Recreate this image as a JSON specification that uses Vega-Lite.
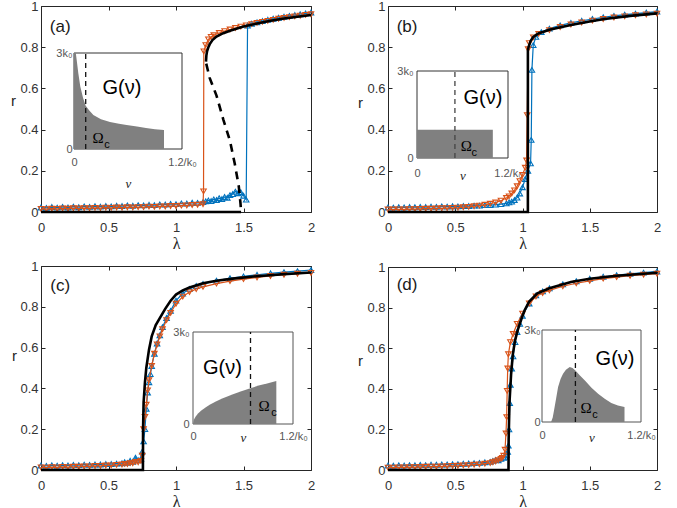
{
"$schema":"https://vega.github.io/schema/vega-lite/v6.json",
"width":677,"height":508,"autosize":"none","padding":0,
"config":{"view":{"stroke":null},"font":"Liberation Sans",
 "axis":{"grid":false,"domainColor":"#262626","domainWidth":1,"tickColor":"#262626","tickWidth":1,"labelFont":"Liberation Sans","labelFontSize":13,"labelColor":"#333333","labelFlush":false,"labelOverlap":false,"labelBound":false,"titleColor":"#262626","titleFontWeight":"normal","titleFont":"Liberation Sans"}},
"datasets":{
"main":[
{"p":"a","s":"f","x":0,"r":0.022},{"p":"a","s":"f","x":0.04,"r":0.02},{"p":"a","s":"f","x":0.08,"r":0.024},{"p":"a","s":"f","x":0.12,"r":0.021},{"p":"a","s":"f","x":0.16,"r":0.025},{"p":"a","s":"f","x":0.2,"r":0.022},{"p":"a","s":"f","x":0.24,"r":0.026},{"p":"a","s":"f","x":0.28,"r":0.023},{"p":"a","s":"f","x":0.32,"r":0.027},{"p":"a","s":"f","x":0.36,"r":0.025},{"p":"a","s":"f","x":0.4,"r":0.028},{"p":"a","s":"f","x":0.44,"r":0.026},{"p":"a","s":"f","x":0.48,"r":0.029},{"p":"a","s":"f","x":0.52,"r":0.027},{"p":"a","s":"f","x":0.56,"r":0.03},{"p":"a","s":"f","x":0.6,"r":0.029},{"p":"a","s":"f","x":0.64,"r":0.032},{"p":"a","s":"f","x":0.68,"r":0.03},{"p":"a","s":"f","x":0.72,"r":0.033},{"p":"a","s":"f","x":0.76,"r":0.032},{"p":"a","s":"f","x":0.8,"r":0.035},{"p":"a","s":"f","x":0.84,"r":0.033},{"p":"a","s":"f","x":0.88,"r":0.037},{"p":"a","s":"f","x":0.92,"r":0.036},{"p":"a","s":"f","x":0.96,"r":0.039},{"p":"a","s":"f","x":1.0,"r":0.038},{"p":"a","s":"f","x":1.04,"r":0.042},{"p":"a","s":"f","x":1.08,"r":0.041},{"p":"a","s":"f","x":1.12,"r":0.045},{"p":"a","s":"f","x":1.16,"r":0.044},{"p":"a","s":"f","x":1.2,"r":0.048},{"p":"a","s":"f","x":1.22,"r":0.052},{"p":"a","s":"f","x":1.24,"r":0.056},{"p":"a","s":"f","x":1.26,"r":0.053},{"p":"a","s":"f","x":1.28,"r":0.061},{"p":"a","s":"f","x":1.3,"r":0.058},{"p":"a","s":"f","x":1.32,"r":0.067},{"p":"a","s":"f","x":1.34,"r":0.063},{"p":"a","s":"f","x":1.36,"r":0.073},{"p":"a","s":"f","x":1.38,"r":0.069},{"p":"a","s":"f","x":1.4,"r":0.082},{"p":"a","s":"f","x":1.42,"r":0.087},{"p":"a","s":"f","x":1.44,"r":0.099},{"p":"a","s":"f","x":1.46,"r":0.091},{"p":"a","s":"f","x":1.48,"r":0.096},{"p":"a","s":"f","x":1.5,"r":0.079},{"p":"a","s":"f","x":1.52,"r":0.06},{"p":"a","s":"f","x":1.53,"r":0.905},{"p":"a","s":"f","x":1.56,"r":0.914},{"p":"a","s":"f","x":1.6,"r":0.921},{"p":"a","s":"f","x":1.64,"r":0.927},{"p":"a","s":"f","x":1.68,"r":0.933},{"p":"a","s":"f","x":1.72,"r":0.938},{"p":"a","s":"f","x":1.76,"r":0.943},{"p":"a","s":"f","x":1.8,"r":0.948},{"p":"a","s":"f","x":1.84,"r":0.952},{"p":"a","s":"f","x":1.88,"r":0.956},{"p":"a","s":"f","x":1.92,"r":0.96},{"p":"a","s":"f","x":1.96,"r":0.964},{"p":"a","s":"f","x":2,"r":0.968},
{"p":"a","s":"b","x":0,"r":0.015},{"p":"a","s":"b","x":0.04,"r":0.014},{"p":"a","s":"b","x":0.08,"r":0.016},{"p":"a","s":"b","x":0.12,"r":0.015},{"p":"a","s":"b","x":0.16,"r":0.017},{"p":"a","s":"b","x":0.2,"r":0.016},{"p":"a","s":"b","x":0.24,"r":0.018},{"p":"a","s":"b","x":0.28,"r":0.017},{"p":"a","s":"b","x":0.32,"r":0.019},{"p":"a","s":"b","x":0.36,"r":0.018},{"p":"a","s":"b","x":0.4,"r":0.02},{"p":"a","s":"b","x":0.44,"r":0.019},{"p":"a","s":"b","x":0.48,"r":0.021},{"p":"a","s":"b","x":0.52,"r":0.02},{"p":"a","s":"b","x":0.56,"r":0.022},{"p":"a","s":"b","x":0.6,"r":0.021},{"p":"a","s":"b","x":0.64,"r":0.023},{"p":"a","s":"b","x":0.68,"r":0.022},{"p":"a","s":"b","x":0.72,"r":0.024},{"p":"a","s":"b","x":0.76,"r":0.024},{"p":"a","s":"b","x":0.8,"r":0.026},{"p":"a","s":"b","x":0.84,"r":0.025},{"p":"a","s":"b","x":0.88,"r":0.027},{"p":"a","s":"b","x":0.92,"r":0.027},{"p":"a","s":"b","x":0.96,"r":0.029},{"p":"a","s":"b","x":1.0,"r":0.029},{"p":"a","s":"b","x":1.04,"r":0.031},{"p":"a","s":"b","x":1.08,"r":0.032},{"p":"a","s":"b","x":1.12,"r":0.034},{"p":"a","s":"b","x":1.16,"r":0.035},{"p":"a","s":"b","x":1.2,"r":0.038},{"p":"a","s":"b","x":1.204,"r":0.1},{"p":"a","s":"b","x":1.206,"r":0.78},{"p":"a","s":"b","x":1.22,"r":0.81},{"p":"a","s":"b","x":1.24,"r":0.838},{"p":"a","s":"b","x":1.26,"r":0.85},{"p":"a","s":"b","x":1.28,"r":0.858},{"p":"a","s":"b","x":1.32,"r":0.869},{"p":"a","s":"b","x":1.36,"r":0.878},{"p":"a","s":"b","x":1.4,"r":0.886},{"p":"a","s":"b","x":1.44,"r":0.893},{"p":"a","s":"b","x":1.48,"r":0.9},{"p":"a","s":"b","x":1.52,"r":0.906},{"p":"a","s":"b","x":1.56,"r":0.912},{"p":"a","s":"b","x":1.6,"r":0.918},{"p":"a","s":"b","x":1.64,"r":0.923},{"p":"a","s":"b","x":1.68,"r":0.928},{"p":"a","s":"b","x":1.72,"r":0.933},{"p":"a","s":"b","x":1.76,"r":0.938},{"p":"a","s":"b","x":1.8,"r":0.942},{"p":"a","s":"b","x":1.84,"r":0.946},{"p":"a","s":"b","x":1.88,"r":0.95},{"p":"a","s":"b","x":1.92,"r":0.953},{"p":"a","s":"b","x":1.96,"r":0.957},{"p":"a","s":"b","x":2,"r":0.96},
{"p":"a","s":"t","x":0,"r":0},{"p":"a","s":"t","x":1.482,"r":0},
{"p":"a","s":"u","x":1.222,"r":0.73},{"p":"a","s":"u","x":1.225,"r":0.76},{"p":"a","s":"u","x":1.23,"r":0.78},{"p":"a","s":"u","x":1.24,"r":0.8},{"p":"a","s":"u","x":1.25,"r":0.815},{"p":"a","s":"u","x":1.27,"r":0.835},{"p":"a","s":"u","x":1.3,"r":0.852},{"p":"a","s":"u","x":1.35,"r":0.868},{"p":"a","s":"u","x":1.4,"r":0.88},{"p":"a","s":"u","x":1.5,"r":0.9},{"p":"a","s":"u","x":1.6,"r":0.915},{"p":"a","s":"u","x":1.7,"r":0.928},{"p":"a","s":"u","x":1.8,"r":0.939},{"p":"a","s":"u","x":1.9,"r":0.948},{"p":"a","s":"u","x":2,"r":0.956},
{"p":"a","s":"d","x":1.224,"r":0.72},{"p":"a","s":"d","x":1.25,"r":0.65},{"p":"a","s":"d","x":1.3,"r":0.565},{"p":"a","s":"d","x":1.35,"r":0.45},{"p":"a","s":"d","x":1.4,"r":0.345},{"p":"a","s":"d","x":1.435,"r":0.235},{"p":"a","s":"d","x":1.465,"r":0.125},{"p":"a","s":"d","x":1.478,"r":0.04},{"p":"a","s":"d","x":1.482,"r":0},
{"p":"b","s":"f","x":0,"r":0.022},{"p":"b","s":"f","x":0.04,"r":0.021},{"p":"b","s":"f","x":0.08,"r":0.023},{"p":"b","s":"f","x":0.12,"r":0.022},{"p":"b","s":"f","x":0.16,"r":0.024},{"p":"b","s":"f","x":0.2,"r":0.023},{"p":"b","s":"f","x":0.24,"r":0.025},{"p":"b","s":"f","x":0.28,"r":0.024},{"p":"b","s":"f","x":0.32,"r":0.026},{"p":"b","s":"f","x":0.36,"r":0.025},{"p":"b","s":"f","x":0.4,"r":0.027},{"p":"b","s":"f","x":0.44,"r":0.026},{"p":"b","s":"f","x":0.48,"r":0.028},{"p":"b","s":"f","x":0.52,"r":0.027},{"p":"b","s":"f","x":0.56,"r":0.029},{"p":"b","s":"f","x":0.6,"r":0.029},{"p":"b","s":"f","x":0.64,"r":0.031},{"p":"b","s":"f","x":0.68,"r":0.031},{"p":"b","s":"f","x":0.72,"r":0.033},{"p":"b","s":"f","x":0.76,"r":0.034},{"p":"b","s":"f","x":0.8,"r":0.036},{"p":"b","s":"f","x":0.84,"r":0.038},{"p":"b","s":"f","x":0.88,"r":0.042},{"p":"b","s":"f","x":0.9,"r":0.047},{"p":"b","s":"f","x":0.92,"r":0.05},{"p":"b","s":"f","x":0.94,"r":0.058},{"p":"b","s":"f","x":0.96,"r":0.07},{"p":"b","s":"f","x":0.98,"r":0.09},{"p":"b","s":"f","x":1.0,"r":0.12},{"p":"b","s":"f","x":1.02,"r":0.16},{"p":"b","s":"f","x":1.04,"r":0.2},{"p":"b","s":"f","x":1.06,"r":0.236},{"p":"b","s":"f","x":1.065,"r":0.35},{"p":"b","s":"f","x":1.07,"r":0.69},{"p":"b","s":"f","x":1.08,"r":0.81},{"p":"b","s":"f","x":1.1,"r":0.85},{"p":"b","s":"f","x":1.14,"r":0.873},{"p":"b","s":"f","x":1.2,"r":0.89},{"p":"b","s":"f","x":1.28,"r":0.906},{"p":"b","s":"f","x":1.36,"r":0.918},{"p":"b","s":"f","x":1.44,"r":0.928},{"p":"b","s":"f","x":1.52,"r":0.937},{"p":"b","s":"f","x":1.6,"r":0.945},{"p":"b","s":"f","x":1.68,"r":0.952},{"p":"b","s":"f","x":1.76,"r":0.958},{"p":"b","s":"f","x":1.84,"r":0.963},{"p":"b","s":"f","x":1.92,"r":0.968},{"p":"b","s":"f","x":2,"r":0.973},
{"p":"b","s":"b","x":0,"r":0.012},{"p":"b","s":"b","x":0.04,"r":0.012},{"p":"b","s":"b","x":0.08,"r":0.013},{"p":"b","s":"b","x":0.12,"r":0.013},{"p":"b","s":"b","x":0.16,"r":0.014},{"p":"b","s":"b","x":0.2,"r":0.014},{"p":"b","s":"b","x":0.24,"r":0.015},{"p":"b","s":"b","x":0.28,"r":0.016},{"p":"b","s":"b","x":0.32,"r":0.016},{"p":"b","s":"b","x":0.36,"r":0.017},{"p":"b","s":"b","x":0.4,"r":0.018},{"p":"b","s":"b","x":0.44,"r":0.019},{"p":"b","s":"b","x":0.48,"r":0.02},{"p":"b","s":"b","x":0.52,"r":0.021},{"p":"b","s":"b","x":0.56,"r":0.023},{"p":"b","s":"b","x":0.6,"r":0.025},{"p":"b","s":"b","x":0.64,"r":0.028},{"p":"b","s":"b","x":0.68,"r":0.031},{"p":"b","s":"b","x":0.72,"r":0.035},{"p":"b","s":"b","x":0.76,"r":0.04},{"p":"b","s":"b","x":0.8,"r":0.046},{"p":"b","s":"b","x":0.84,"r":0.055},{"p":"b","s":"b","x":0.88,"r":0.068},{"p":"b","s":"b","x":0.9,"r":0.076},{"p":"b","s":"b","x":0.92,"r":0.09},{"p":"b","s":"b","x":0.94,"r":0.105},{"p":"b","s":"b","x":0.96,"r":0.125},{"p":"b","s":"b","x":0.98,"r":0.15},{"p":"b","s":"b","x":1.0,"r":0.18},{"p":"b","s":"b","x":1.02,"r":0.215},{"p":"b","s":"b","x":1.03,"r":0.25},{"p":"b","s":"b","x":1.035,"r":0.47},{"p":"b","s":"b","x":1.042,"r":0.79},{"p":"b","s":"b","x":1.05,"r":0.82},{"p":"b","s":"b","x":1.08,"r":0.848},{"p":"b","s":"b","x":1.12,"r":0.865},{"p":"b","s":"b","x":1.2,"r":0.883},{"p":"b","s":"b","x":1.28,"r":0.898},{"p":"b","s":"b","x":1.36,"r":0.91},{"p":"b","s":"b","x":1.44,"r":0.92},{"p":"b","s":"b","x":1.52,"r":0.929},{"p":"b","s":"b","x":1.6,"r":0.937},{"p":"b","s":"b","x":1.68,"r":0.944},{"p":"b","s":"b","x":1.76,"r":0.95},{"p":"b","s":"b","x":1.84,"r":0.955},{"p":"b","s":"b","x":1.92,"r":0.959},{"p":"b","s":"b","x":2,"r":0.963},
{"p":"b","s":"t","x":0,"r":0},{"p":"b","s":"t","x":1.04,"r":0},{"p":"b","s":"t","x":1.0401,"r":0.786},{"p":"b","s":"t","x":1.045,"r":0.8},{"p":"b","s":"t","x":1.06,"r":0.83},{"p":"b","s":"t","x":1.08,"r":0.85},{"p":"b","s":"t","x":1.118,"r":0.867},{"p":"b","s":"t","x":1.2,"r":0.885},{"p":"b","s":"t","x":1.36,"r":0.908},{"p":"b","s":"t","x":1.5,"r":0.925},{"p":"b","s":"t","x":1.61,"r":0.937},{"p":"b","s":"t","x":1.8,"r":0.952},{"p":"b","s":"t","x":2,"r":0.964},
{"p":"c","s":"f","x":0,"r":0.022},{"p":"c","s":"f","x":0.04,"r":0.02},{"p":"c","s":"f","x":0.08,"r":0.023},{"p":"c","s":"f","x":0.12,"r":0.021},{"p":"c","s":"f","x":0.16,"r":0.024},{"p":"c","s":"f","x":0.2,"r":0.022},{"p":"c","s":"f","x":0.24,"r":0.025},{"p":"c","s":"f","x":0.28,"r":0.024},{"p":"c","s":"f","x":0.32,"r":0.026},{"p":"c","s":"f","x":0.36,"r":0.025},{"p":"c","s":"f","x":0.4,"r":0.027},{"p":"c","s":"f","x":0.44,"r":0.027},{"p":"c","s":"f","x":0.48,"r":0.029},{"p":"c","s":"f","x":0.52,"r":0.029},{"p":"c","s":"f","x":0.56,"r":0.031},{"p":"c","s":"f","x":0.6,"r":0.033},{"p":"c","s":"f","x":0.62,"r":0.038},{"p":"c","s":"f","x":0.64,"r":0.035},{"p":"c","s":"f","x":0.66,"r":0.045},{"p":"c","s":"f","x":0.68,"r":0.04},{"p":"c","s":"f","x":0.7,"r":0.06},{"p":"c","s":"f","x":0.72,"r":0.048},{"p":"c","s":"f","x":0.74,"r":0.055},{"p":"c","s":"f","x":0.75,"r":0.09},{"p":"c","s":"f","x":0.76,"r":0.14},{"p":"c","s":"f","x":0.77,"r":0.2},{"p":"c","s":"f","x":0.78,"r":0.3},{"p":"c","s":"f","x":0.79,"r":0.38},{"p":"c","s":"f","x":0.8,"r":0.43},{"p":"c","s":"f","x":0.81,"r":0.47},{"p":"c","s":"f","x":0.82,"r":0.51},{"p":"c","s":"f","x":0.84,"r":0.57},{"p":"c","s":"f","x":0.86,"r":0.62},{"p":"c","s":"f","x":0.88,"r":0.66},{"p":"c","s":"f","x":0.9,"r":0.7},{"p":"c","s":"f","x":0.93,"r":0.745},{"p":"c","s":"f","x":0.96,"r":0.78},{"p":"c","s":"f","x":1.0,"r":0.83},{"p":"c","s":"f","x":1.05,"r":0.865},{"p":"c","s":"f","x":1.1,"r":0.888},{"p":"c","s":"f","x":1.15,"r":0.902},{"p":"c","s":"f","x":1.2,"r":0.912},{"p":"c","s":"f","x":1.3,"r":0.928},{"p":"c","s":"f","x":1.4,"r":0.94},{"p":"c","s":"f","x":1.5,"r":0.949},{"p":"c","s":"f","x":1.6,"r":0.957},{"p":"c","s":"f","x":1.7,"r":0.964},{"p":"c","s":"f","x":1.8,"r":0.97},{"p":"c","s":"f","x":1.9,"r":0.975},{"p":"c","s":"f","x":2,"r":0.98},
{"p":"c","s":"b","x":0,"r":0.013},{"p":"c","s":"b","x":0.04,"r":0.012},{"p":"c","s":"b","x":0.08,"r":0.014},{"p":"c","s":"b","x":0.12,"r":0.013},{"p":"c","s":"b","x":0.16,"r":0.015},{"p":"c","s":"b","x":0.2,"r":0.014},{"p":"c","s":"b","x":0.24,"r":0.016},{"p":"c","s":"b","x":0.28,"r":0.016},{"p":"c","s":"b","x":0.32,"r":0.018},{"p":"c","s":"b","x":0.36,"r":0.018},{"p":"c","s":"b","x":0.4,"r":0.02},{"p":"c","s":"b","x":0.44,"r":0.02},{"p":"c","s":"b","x":0.48,"r":0.022},{"p":"c","s":"b","x":0.52,"r":0.023},{"p":"c","s":"b","x":0.56,"r":0.025},{"p":"c","s":"b","x":0.6,"r":0.027},{"p":"c","s":"b","x":0.62,"r":0.03},{"p":"c","s":"b","x":0.64,"r":0.029},{"p":"c","s":"b","x":0.66,"r":0.034},{"p":"c","s":"b","x":0.68,"r":0.033},{"p":"c","s":"b","x":0.7,"r":0.04},{"p":"c","s":"b","x":0.72,"r":0.038},{"p":"c","s":"b","x":0.74,"r":0.045},{"p":"c","s":"b","x":0.75,"r":0.07},{"p":"c","s":"b","x":0.76,"r":0.2},{"p":"c","s":"b","x":0.77,"r":0.26},{"p":"c","s":"b","x":0.78,"r":0.32},{"p":"c","s":"b","x":0.79,"r":0.39},{"p":"c","s":"b","x":0.8,"r":0.44},{"p":"c","s":"b","x":0.82,"r":0.51},{"p":"c","s":"b","x":0.84,"r":0.57},{"p":"c","s":"b","x":0.86,"r":0.615},{"p":"c","s":"b","x":0.88,"r":0.655},{"p":"c","s":"b","x":0.9,"r":0.69},{"p":"c","s":"b","x":0.93,"r":0.735},{"p":"c","s":"b","x":0.96,"r":0.77},{"p":"c","s":"b","x":1.0,"r":0.815},{"p":"c","s":"b","x":1.05,"r":0.85},{"p":"c","s":"b","x":1.1,"r":0.872},{"p":"c","s":"b","x":1.15,"r":0.887},{"p":"c","s":"b","x":1.2,"r":0.898},{"p":"c","s":"b","x":1.3,"r":0.914},{"p":"c","s":"b","x":1.4,"r":0.926},{"p":"c","s":"b","x":1.5,"r":0.936},{"p":"c","s":"b","x":1.6,"r":0.944},{"p":"c","s":"b","x":1.7,"r":0.951},{"p":"c","s":"b","x":1.8,"r":0.957},{"p":"c","s":"b","x":1.9,"r":0.962},{"p":"c","s":"b","x":2,"r":0.966},
{"p":"c","s":"t","x":0,"r":0},{"p":"c","s":"t","x":0.755,"r":0},{"p":"c","s":"t","x":0.756,"r":0.2},{"p":"c","s":"t","x":0.76,"r":0.33},{"p":"c","s":"t","x":0.77,"r":0.43},{"p":"c","s":"t","x":0.78,"r":0.5},{"p":"c","s":"t","x":0.8,"r":0.59},{"p":"c","s":"t","x":0.82,"r":0.655},{"p":"c","s":"t","x":0.85,"r":0.71},{"p":"c","s":"t","x":0.88,"r":0.745},{"p":"c","s":"t","x":0.92,"r":0.79},{"p":"c","s":"t","x":0.96,"r":0.83},{"p":"c","s":"t","x":1.0,"r":0.86},{"p":"c","s":"t","x":1.05,"r":0.88},{"p":"c","s":"t","x":1.1,"r":0.895},{"p":"c","s":"t","x":1.2,"r":0.915},{"p":"c","s":"t","x":1.3,"r":0.928},{"p":"c","s":"t","x":1.42,"r":0.938},{"p":"c","s":"t","x":1.6,"r":0.95},{"p":"c","s":"t","x":1.8,"r":0.96},{"p":"c","s":"t","x":2,"r":0.968},
{"p":"d","s":"f","x":0,"r":0.022},{"p":"d","s":"f","x":0.04,"r":0.021},{"p":"d","s":"f","x":0.08,"r":0.023},{"p":"d","s":"f","x":0.12,"r":0.022},{"p":"d","s":"f","x":0.16,"r":0.024},{"p":"d","s":"f","x":0.2,"r":0.023},{"p":"d","s":"f","x":0.24,"r":0.025},{"p":"d","s":"f","x":0.28,"r":0.024},{"p":"d","s":"f","x":0.32,"r":0.026},{"p":"d","s":"f","x":0.36,"r":0.026},{"p":"d","s":"f","x":0.4,"r":0.027},{"p":"d","s":"f","x":0.44,"r":0.027},{"p":"d","s":"f","x":0.48,"r":0.029},{"p":"d","s":"f","x":0.52,"r":0.029},{"p":"d","s":"f","x":0.56,"r":0.031},{"p":"d","s":"f","x":0.6,"r":0.032},{"p":"d","s":"f","x":0.64,"r":0.034},{"p":"d","s":"f","x":0.68,"r":0.035},{"p":"d","s":"f","x":0.72,"r":0.038},{"p":"d","s":"f","x":0.76,"r":0.04},{"p":"d","s":"f","x":0.78,"r":0.045},{"p":"d","s":"f","x":0.8,"r":0.05},{"p":"d","s":"f","x":0.82,"r":0.048},{"p":"d","s":"f","x":0.84,"r":0.055},{"p":"d","s":"f","x":0.86,"r":0.06},{"p":"d","s":"f","x":0.87,"r":0.065},{"p":"d","s":"f","x":0.88,"r":0.075},{"p":"d","s":"f","x":0.89,"r":0.09},{"p":"d","s":"f","x":0.895,"r":0.12},{"p":"d","s":"f","x":0.9,"r":0.2},{"p":"d","s":"f","x":0.905,"r":0.33},{"p":"d","s":"f","x":0.91,"r":0.42},{"p":"d","s":"f","x":0.92,"r":0.5},{"p":"d","s":"f","x":0.93,"r":0.56},{"p":"d","s":"f","x":0.945,"r":0.63},{"p":"d","s":"f","x":0.96,"r":0.68},{"p":"d","s":"f","x":0.98,"r":0.72},{"p":"d","s":"f","x":1.0,"r":0.76},{"p":"d","s":"f","x":1.05,"r":0.82},{"p":"d","s":"f","x":1.1,"r":0.86},{"p":"d","s":"f","x":1.15,"r":0.88},{"p":"d","s":"f","x":1.2,"r":0.895},{"p":"d","s":"f","x":1.3,"r":0.915},{"p":"d","s":"f","x":1.4,"r":0.93},{"p":"d","s":"f","x":1.5,"r":0.942},{"p":"d","s":"f","x":1.6,"r":0.952},{"p":"d","s":"f","x":1.7,"r":0.96},{"p":"d","s":"f","x":1.8,"r":0.966},{"p":"d","s":"f","x":1.9,"r":0.972},{"p":"d","s":"f","x":2,"r":0.978},
{"p":"d","s":"b","x":0,"r":0.012},{"p":"d","s":"b","x":0.04,"r":0.012},{"p":"d","s":"b","x":0.08,"r":0.013},{"p":"d","s":"b","x":0.12,"r":0.013},{"p":"d","s":"b","x":0.16,"r":0.014},{"p":"d","s":"b","x":0.2,"r":0.014},{"p":"d","s":"b","x":0.24,"r":0.015},{"p":"d","s":"b","x":0.28,"r":0.016},{"p":"d","s":"b","x":0.32,"r":0.017},{"p":"d","s":"b","x":0.36,"r":0.017},{"p":"d","s":"b","x":0.4,"r":0.018},{"p":"d","s":"b","x":0.44,"r":0.019},{"p":"d","s":"b","x":0.48,"r":0.02},{"p":"d","s":"b","x":0.52,"r":0.021},{"p":"d","s":"b","x":0.56,"r":0.023},{"p":"d","s":"b","x":0.6,"r":0.024},{"p":"d","s":"b","x":0.64,"r":0.026},{"p":"d","s":"b","x":0.68,"r":0.028},{"p":"d","s":"b","x":0.72,"r":0.031},{"p":"d","s":"b","x":0.76,"r":0.034},{"p":"d","s":"b","x":0.78,"r":0.038},{"p":"d","s":"b","x":0.8,"r":0.042},{"p":"d","s":"b","x":0.82,"r":0.048},{"p":"d","s":"b","x":0.84,"r":0.055},{"p":"d","s":"b","x":0.85,"r":0.06},{"p":"d","s":"b","x":0.86,"r":0.07},{"p":"d","s":"b","x":0.87,"r":0.1},{"p":"d","s":"b","x":0.877,"r":0.18},{"p":"d","s":"b","x":0.882,"r":0.26},{"p":"d","s":"b","x":0.886,"r":0.39},{"p":"d","s":"b","x":0.89,"r":0.5},{"p":"d","s":"b","x":0.895,"r":0.57},{"p":"d","s":"b","x":0.91,"r":0.63},{"p":"d","s":"b","x":0.93,"r":0.67},{"p":"d","s":"b","x":0.96,"r":0.72},{"p":"d","s":"b","x":1.0,"r":0.77},{"p":"d","s":"b","x":1.05,"r":0.82},{"p":"d","s":"b","x":1.1,"r":0.855},{"p":"d","s":"b","x":1.15,"r":0.872},{"p":"d","s":"b","x":1.2,"r":0.885},{"p":"d","s":"b","x":1.3,"r":0.905},{"p":"d","s":"b","x":1.4,"r":0.92},{"p":"d","s":"b","x":1.5,"r":0.932},{"p":"d","s":"b","x":1.6,"r":0.943},{"p":"d","s":"b","x":1.7,"r":0.95},{"p":"d","s":"b","x":1.8,"r":0.957},{"p":"d","s":"b","x":1.9,"r":0.962},{"p":"d","s":"b","x":2,"r":0.967},
{"p":"d","s":"t","x":0,"r":0},{"p":"d","s":"t","x":0.896,"r":0},{"p":"d","s":"t","x":0.897,"r":0.15},{"p":"d","s":"t","x":0.903,"r":0.33},{"p":"d","s":"t","x":0.915,"r":0.47},{"p":"d","s":"t","x":0.928,"r":0.57},{"p":"d","s":"t","x":0.945,"r":0.64},{"p":"d","s":"t","x":0.965,"r":0.69},{"p":"d","s":"t","x":0.99,"r":0.74},{"p":"d","s":"t","x":1.015,"r":0.786},{"p":"d","s":"t","x":1.05,"r":0.83},{"p":"d","s":"t","x":1.11,"r":0.87},{"p":"d","s":"t","x":1.2,"r":0.895},{"p":"d","s":"t","x":1.36,"r":0.926},{"p":"d","s":"t","x":1.5,"r":0.942},{"p":"d","s":"t","x":1.7,"r":0.957},{"p":"d","s":"t","x":2,"r":0.972}
],
"g":[
{"p":"a","nu":0,"G":3},{"p":"a","nu":0.02,"G":3},{"p":"a","nu":0.03,"G":2.78},{"p":"a","nu":0.048,"G":2.37},{"p":"a","nu":0.07,"G":1.95},{"p":"a","nu":0.1,"G":1.6},{"p":"a","nu":0.13,"G":1.35},{"p":"a","nu":0.17,"G":1.2},{"p":"a","nu":0.215,"G":1.06},{"p":"a","nu":0.3,"G":0.93},{"p":"a","nu":0.4,"G":0.84},{"p":"a","nu":0.5,"G":0.79},{"p":"a","nu":0.585,"G":0.75},{"p":"a","nu":0.7,"G":0.7},{"p":"a","nu":0.8,"G":0.66},{"p":"a","nu":0.9,"G":0.62},{"p":"a","nu":1.0,"G":0.59},
{"p":"b","nu":0,"G":0.97},{"p":"b","nu":1.0,"G":0.97},
{"p":"c","nu":0,"G":0},{"p":"c","nu":0.01,"G":0.14},{"p":"c","nu":0.03,"G":0.24},{"p":"c","nu":0.06,"G":0.34},{"p":"c","nu":0.1,"G":0.44},{"p":"c","nu":0.15,"G":0.54},{"p":"c","nu":0.2,"G":0.63},{"p":"c","nu":0.28,"G":0.74},{"p":"c","nu":0.35,"G":0.83},{"p":"c","nu":0.48,"G":0.97},{"p":"c","nu":0.58,"G":1.07},{"p":"c","nu":0.68,"G":1.16},{"p":"c","nu":0.8,"G":1.26},{"p":"c","nu":0.9,"G":1.33},{"p":"c","nu":1.0,"G":1.4},
{"p":"d","nu":0.11,"G":0},{"p":"d","nu":0.13,"G":0.15},{"p":"d","nu":0.146,"G":0.38},{"p":"d","nu":0.17,"G":0.75},{"p":"d","nu":0.195,"G":1.14},{"p":"d","nu":0.225,"G":1.4},{"p":"d","nu":0.255,"G":1.57},{"p":"d","nu":0.29,"G":1.7},{"p":"d","nu":0.336,"G":1.79},{"p":"d","nu":0.37,"G":1.76},{"p":"d","nu":0.405,"G":1.68},{"p":"d","nu":0.46,"G":1.52},{"p":"d","nu":0.52,"G":1.35},{"p":"d","nu":0.6,"G":1.12},{"p":"d","nu":0.68,"G":0.92},{"p":"d","nu":0.76,"G":0.76},{"p":"d","nu":0.84,"G":0.62},{"p":"d","nu":0.92,"G":0.54},{"p":"d","nu":1.0,"G":0.49}
],
"om":[{"p":"a","w":0.13},{"p":"b","w":0.5},{"p":"c","w":0.69},{"p":"d","w":0.405}],
"txt":[
{"p":"a","k":"G","t":"G(ν)","nu":0.533,"G":1.91},{"p":"a","k":"O","t":"Ω","nu":0.267,"G":0.34},
{"p":"b","k":"G","t":"G(ν)","nu":0.87,"G":2.06},{"p":"b","k":"O","t":"Ω","nu":0.65,"G":0.4},
{"p":"c","k":"G","t":"G(ν)","nu":0.354,"G":1.83},{"p":"c","k":"O","t":"Ω","nu":0.852,"G":0.6},
{"p":"d","k":"G","t":"G(ν)","nu":0.885,"G":2.05},{"p":"d","k":"O","t":"Ω","nu":0.533,"G":0.46}
],
"lab":[{"p":"a","t":"(a)","x":0.142,"r":0.9},{"p":"b","t":"(b)","x":0.142,"r":0.9},{"p":"c","t":"(c)","x":0.142,"r":0.9},{"p":"d","t":"(d)","x":0.142,"r":0.91}]
},
"layer":[
{"layer":[
 {"layer":[
  {"data":{"name":"main"},"transform":[{"filter":"datum.p=='a' && datum.s=='f'"}],"mark":{"type":"line","color":"#0072BD","strokeWidth":1.2},
   "encoding":{"x":{"field":"x","type":"quantitative","scale":{"domain":[0,2],"range":[41,311],"nice":false},"axis":{"orient":"bottom","offset":-296,"values":[0,0.5,1,1.5,2],"format":"~g","tickSize":-4,"labelPadding":13,"title":"λ","titleY":31,"titleBaseline":"middle","titleFont":"Liberation Serif","titleFontSize":16}},
    "y":{"field":"r","type":"quantitative","scale":{"domain":[0,1],"range":[212,6],"nice":false},"axis":{"orient":"left","offset":-41,"values":[0,0.2,0.4,0.6,0.8,1],"format":"~g","tickSize":-4,"labelPadding":7,"title":"r","titleAngle":0,"titleX":-28,"titleY":100,"titleBaseline":"middle","titleAlign":"center","titleFontSize":15}}}},
  {"data":{"name":"main"},"transform":[{"filter":"datum.p=='a' && datum.s=='f'"}],"mark":{"type":"point","shape":"triangle-up","filled":false,"color":"#0072BD","size":30,"strokeWidth":1.1,"opacity":1},
   "encoding":{"x":{"field":"x","type":"quantitative","axis":null},"y":{"field":"r","type":"quantitative","axis":null}}},
  {"data":{"name":"main"},"transform":[{"filter":"datum.p=='a' && datum.s=='b'"}],"mark":{"type":"line","color":"#D95319","strokeWidth":1.2},
   "encoding":{"x":{"field":"x","type":"quantitative","axis":null},"y":{"field":"r","type":"quantitative","axis":null}}},
  {"data":{"name":"main"},"transform":[{"filter":"datum.p=='a' && datum.s=='b'"}],"mark":{"type":"point","shape":"triangle-down","filled":false,"color":"#D95319","size":30,"strokeWidth":1.1,"opacity":1},
   "encoding":{"x":{"field":"x","type":"quantitative","axis":null},"y":{"field":"r","type":"quantitative","axis":null}}},
  {"data":{"name":"main"},"transform":[{"filter":"datum.p=='a' && (datum.s=='t' || datum.s=='u')"}],"mark":{"type":"line","color":"#000000","strokeWidth":2.6},
   "encoding":{"x":{"field":"x","type":"quantitative","axis":{"orient":"top","offset":-6,"values":[0,0.5,1,1.5,2],"tickSize":-4,"labels":false,"title":null}},
    "y":{"field":"r","type":"quantitative","axis":{"orient":"right","offset":-366,"values":[0,0.2,0.4,0.6,0.8,1],"tickSize":-4,"labels":false,"title":null}},"detail":{"field":"s"}}},
  {"data":{"name":"main"},"transform":[{"filter":"datum.p=='a' && datum.s=='d'"}],"mark":{"type":"line","color":"#000000","strokeWidth":2.6,"strokeDash":[8,6]},
   "encoding":{"x":{"field":"x","type":"quantitative","axis":null},"y":{"field":"r","type":"quantitative","axis":null}}},
  {"data":{"name":"lab"},"transform":[{"filter":"datum.p=='a'"}],"mark":{"type":"text","fontSize":17,"color":"#1a1a1a","align":"center","baseline":"middle"},
   "encoding":{"x":{"field":"x","type":"quantitative","axis":null},"y":{"field":"r","type":"quantitative","axis":null},"text":{"field":"t"}}}
 ],"resolve":{"axis":{"x":"independent","y":"independent"}}},
 {"layer":[
  {"data":{"values":[{}]},"mark":{"type":"rect","fill":"#ffffff","stroke":"#333333","strokeWidth":1},
   "encoding":{"x":{"datum":0,"type":"quantitative","scale":{"domain":[0,1.2],"range":[74,182],"nice":false},"axis":null},"x2":{"datum":1.2},
    "y":{"datum":0,"type":"quantitative","scale":{"domain":[0,3],"range":[149,53],"nice":false},"axis":null},"y2":{"datum":3}}},
  {"data":{"name":"g"},"transform":[{"filter":"datum.p=='a'"}],"mark":{"type":"area","color":"#808080","opacity":1},
   "encoding":{"x":{"field":"nu","type":"quantitative","axis":{"orient":"bottom","offset":-359,"values":[0,1.2],"labelExpr":"datum.value == 0 ? '0' : '1.2/k₀'","ticks":false,"domain":false,"labelPadding":7,"labelFontSize":11,"labelColor":"#555555","title":"ν","titleY":34,"titleBaseline":"middle","titleFont":"Liberation Serif","titleFontStyle":"italic","titleFontSize":13}},
    "y":{"field":"G","type":"quantitative","stack":null,"axis":{"orient":"left","offset":-74,"values":[0,3],"labelExpr":"datum.value == 0 ? '0' : '3k₀'","ticks":false,"domain":false,"labelPadding":2,"labelFontSize":11,"labelColor":"#555555","title":null}}}},
  {"data":{"name":"om"},"transform":[{"filter":"datum.p=='a'"}],"mark":{"type":"rule","color":"#111111","strokeDash":[5,4],"strokeWidth":1.3},
   "encoding":{"x":{"field":"w","type":"quantitative","axis":null},"y":{"datum":0,"type":"quantitative","axis":null},"y2":{"datum":3}}},
  {"data":{"name":"txt"},"transform":[{"filter":"datum.p=='a' && datum.k=='G'"}],"mark":{"type":"text","fontSize":20,"color":"#000000","align":"center","baseline":"middle"},
   "encoding":{"x":{"field":"nu","type":"quantitative","axis":null},"y":{"field":"G","type":"quantitative","axis":null},"text":{"field":"t"}}},
  {"data":{"name":"txt"},"transform":[{"filter":"datum.p=='a' && datum.k=='O'"}],"mark":{"type":"text","fontSize":15,"color":"#000000","align":"center","baseline":"middle","font":"Liberation Serif"},
   "encoding":{"x":{"field":"nu","type":"quantitative","axis":null},"y":{"field":"G","type":"quantitative","axis":null},"text":{"field":"t"}}},
  {"data":{"name":"txt"},"transform":[{"filter":"datum.p=='a' && datum.k=='O'"}],"mark":{"type":"text","fontSize":11,"color":"#000000","align":"center","baseline":"middle","dx":9,"dy":7},
   "encoding":{"x":{"field":"nu","type":"quantitative","axis":null},"y":{"field":"G","type":"quantitative","axis":null},"text":{"value":"c"}}}
 ],"resolve":{"axis":{"x":"independent","y":"independent"}}}
],"resolve":{"scale":{"x":"independent","y":"independent"},"axis":{"x":"independent","y":"independent"}}},
{"layer":[
 {"layer":[
  {"data":{"name":"main"},"transform":[{"filter":"datum.p=='b' && datum.s=='f'"}],"mark":{"type":"line","color":"#0072BD","strokeWidth":1.2},
   "encoding":{"x":{"field":"x","type":"quantitative","scale":{"domain":[0,2],"range":[388,657],"nice":false},"axis":{"orient":"bottom","offset":-296,"values":[0,0.5,1,1.5,2],"format":"~g","tickSize":-4,"labelPadding":13,"title":"λ","titleY":31,"titleBaseline":"middle","titleFont":"Liberation Serif","titleFontSize":16}},
    "y":{"field":"r","type":"quantitative","scale":{"domain":[0,1],"range":[212,6],"nice":false},"axis":{"orient":"left","offset":-388,"values":[0,0.2,0.4,0.6,0.8,1],"format":"~g","tickSize":-4,"labelPadding":7,"title":"r","titleAngle":0,"titleX":-28,"titleY":102,"titleBaseline":"middle","titleAlign":"center","titleFontSize":15}}}},
  {"data":{"name":"main"},"transform":[{"filter":"datum.p=='b' && datum.s=='f'"}],"mark":{"type":"point","shape":"triangle-up","filled":false,"color":"#0072BD","size":30,"strokeWidth":1.1,"opacity":1},
   "encoding":{"x":{"field":"x","type":"quantitative","axis":null},"y":{"field":"r","type":"quantitative","axis":null}}},
  {"data":{"name":"main"},"transform":[{"filter":"datum.p=='b' && datum.s=='b'"}],"mark":{"type":"line","color":"#D95319","strokeWidth":1.2},
   "encoding":{"x":{"field":"x","type":"quantitative","axis":null},"y":{"field":"r","type":"quantitative","axis":null}}},
  {"data":{"name":"main"},"transform":[{"filter":"datum.p=='b' && datum.s=='b'"}],"mark":{"type":"point","shape":"triangle-down","filled":false,"color":"#D95319","size":30,"strokeWidth":1.1,"opacity":1},
   "encoding":{"x":{"field":"x","type":"quantitative","axis":null},"y":{"field":"r","type":"quantitative","axis":null}}},
  {"data":{"name":"main"},"transform":[{"filter":"datum.p=='b' && datum.s=='t'"}],"mark":{"type":"line","color":"#000000","strokeWidth":2.6},
   "encoding":{"x":{"field":"x","type":"quantitative","axis":{"orient":"top","offset":-6,"values":[0,0.5,1,1.5,2],"tickSize":-4,"labels":false,"title":null}},
    "y":{"field":"r","type":"quantitative","axis":{"orient":"right","offset":-20,"values":[0,0.2,0.4,0.6,0.8,1],"tickSize":-4,"labels":false,"title":null}}}},
  {"data":{"name":"lab"},"transform":[{"filter":"datum.p=='b'"}],"mark":{"type":"text","fontSize":17,"color":"#1a1a1a","align":"center","baseline":"middle"},
   "encoding":{"x":{"field":"x","type":"quantitative","axis":null},"y":{"field":"r","type":"quantitative","axis":null},"text":{"field":"t"}}}
 ],"resolve":{"axis":{"x":"independent","y":"independent"}}},
 {"layer":[
  {"data":{"values":[{}]},"mark":{"type":"rect","fill":"#ffffff","stroke":"#333333","strokeWidth":1},
   "encoding":{"x":{"datum":0,"type":"quantitative","scale":{"domain":[0,1.2],"range":[417,508],"nice":false},"axis":null},"x2":{"datum":1.2},
    "y":{"datum":0,"type":"quantitative","scale":{"domain":[0,3],"range":[158,71],"nice":false},"axis":null},"y2":{"datum":3}}},
  {"data":{"name":"g"},"transform":[{"filter":"datum.p=='b'"}],"mark":{"type":"area","color":"#808080","opacity":1},
   "encoding":{"x":{"field":"nu","type":"quantitative","axis":{"orient":"bottom","offset":-350,"values":[0,1.2],"labelExpr":"datum.value == 0 ? '0' : '1.2/k₀'","ticks":false,"domain":false,"labelPadding":9,"labelFontSize":11,"labelColor":"#555555","title":"ν","titleY":17,"titleBaseline":"middle","titleFont":"Liberation Serif","titleFontStyle":"italic","titleFontSize":13}},
    "y":{"field":"G","type":"quantitative","stack":null,"axis":{"orient":"left","offset":-417,"values":[0,3],"labelExpr":"datum.value == 0 ? '0' : '3k₀'","ticks":false,"domain":false,"labelPadding":4,"labelFontSize":11,"labelColor":"#555555","title":null}}}},
  {"data":{"name":"om"},"transform":[{"filter":"datum.p=='b'"}],"mark":{"type":"rule","color":"#444444","strokeDash":[5,4],"strokeWidth":1.3},
   "encoding":{"x":{"field":"w","type":"quantitative","axis":null},"y":{"datum":0,"type":"quantitative","axis":null},"y2":{"datum":3}}},
  {"data":{"name":"txt"},"transform":[{"filter":"datum.p=='b' && datum.k=='G'"}],"mark":{"type":"text","fontSize":20,"color":"#000000","align":"center","baseline":"middle"},
   "encoding":{"x":{"field":"nu","type":"quantitative","axis":null},"y":{"field":"G","type":"quantitative","axis":null},"text":{"field":"t"}}},
  {"data":{"name":"txt"},"transform":[{"filter":"datum.p=='b' && datum.k=='O'"}],"mark":{"type":"text","fontSize":15,"color":"#000000","align":"center","baseline":"middle","font":"Liberation Serif"},
   "encoding":{"x":{"field":"nu","type":"quantitative","axis":null},"y":{"field":"G","type":"quantitative","axis":null},"text":{"field":"t"}}},
  {"data":{"name":"txt"},"transform":[{"filter":"datum.p=='b' && datum.k=='O'"}],"mark":{"type":"text","fontSize":11,"color":"#000000","align":"center","baseline":"middle","dx":8,"dy":7},
   "encoding":{"x":{"field":"nu","type":"quantitative","axis":null},"y":{"field":"G","type":"quantitative","axis":null},"text":{"value":"c"}}}
 ],"resolve":{"axis":{"x":"independent","y":"independent"}}}
],"resolve":{"scale":{"x":"independent","y":"independent"},"axis":{"x":"independent","y":"independent"}}},
{"layer":[
 {"layer":[
  {"data":{"name":"main"},"transform":[{"filter":"datum.p=='c' && datum.s=='f'"}],"mark":{"type":"line","color":"#0072BD","strokeWidth":1.2},
   "encoding":{"x":{"field":"x","type":"quantitative","scale":{"domain":[0,2],"range":[41,311],"nice":false},"axis":{"orient":"bottom","offset":-38,"values":[0,0.5,1,1.5,2],"format":"~g","tickSize":-4,"labelPadding":13,"title":"λ","titleY":31,"titleBaseline":"middle","titleFont":"Liberation Serif","titleFontSize":16}},
    "y":{"field":"r","type":"quantitative","scale":{"domain":[0,1],"range":[470,266],"nice":false},"axis":{"orient":"left","offset":-41,"values":[0,0.2,0.4,0.6,0.8,1],"format":"~g","tickSize":-4,"labelPadding":7,"title":"r","titleAngle":0,"titleX":-27,"titleY":355,"titleBaseline":"middle","titleAlign":"center","titleFontSize":15}}}},
  {"data":{"name":"main"},"transform":[{"filter":"datum.p=='c' && datum.s=='f'"}],"mark":{"type":"point","shape":"triangle-up","filled":false,"color":"#0072BD","size":30,"strokeWidth":1.1,"opacity":1},
   "encoding":{"x":{"field":"x","type":"quantitative","axis":null},"y":{"field":"r","type":"quantitative","axis":null}}},
  {"data":{"name":"main"},"transform":[{"filter":"datum.p=='c' && datum.s=='b'"}],"mark":{"type":"line","color":"#D95319","strokeWidth":1.2},
   "encoding":{"x":{"field":"x","type":"quantitative","axis":null},"y":{"field":"r","type":"quantitative","axis":null}}},
  {"data":{"name":"main"},"transform":[{"filter":"datum.p=='c' && datum.s=='b'"}],"mark":{"type":"point","shape":"triangle-down","filled":false,"color":"#D95319","size":30,"strokeWidth":1.1,"opacity":1},
   "encoding":{"x":{"field":"x","type":"quantitative","axis":null},"y":{"field":"r","type":"quantitative","axis":null}}},
  {"data":{"name":"main"},"transform":[{"filter":"datum.p=='c' && datum.s=='t'"}],"mark":{"type":"line","color":"#000000","strokeWidth":2.6},
   "encoding":{"x":{"field":"x","type":"quantitative","axis":{"orient":"top","offset":-266,"values":[0,0.5,1,1.5,2],"tickSize":-4,"labels":false,"title":null}},
    "y":{"field":"r","type":"quantitative","axis":{"orient":"right","offset":-366,"values":[0,0.2,0.4,0.6,0.8,1],"tickSize":-4,"labels":false,"title":null}}}},
  {"data":{"name":"lab"},"transform":[{"filter":"datum.p=='c'"}],"mark":{"type":"text","fontSize":17,"color":"#1a1a1a","align":"center","baseline":"middle"},
   "encoding":{"x":{"field":"x","type":"quantitative","axis":null},"y":{"field":"r","type":"quantitative","axis":null},"text":{"field":"t"}}}
 ],"resolve":{"axis":{"x":"independent","y":"independent"}}},
 {"layer":[
  {"data":{"values":[{}]},"mark":{"type":"rect","fill":"#ffffff","stroke":"#555555","strokeWidth":1},
   "encoding":{"x":{"datum":0,"type":"quantitative","scale":{"domain":[0,1.2],"range":[193,293],"nice":false},"axis":null},"x2":{"datum":1.2},
    "y":{"datum":0,"type":"quantitative","scale":{"domain":[0,3],"range":[424,332],"nice":false},"axis":null},"y2":{"datum":3}}},
  {"data":{"name":"g"},"transform":[{"filter":"datum.p=='c'"}],"mark":{"type":"area","color":"#808080","opacity":1},
   "encoding":{"x":{"field":"nu","type":"quantitative","axis":{"orient":"bottom","offset":-84,"values":[0,1.2],"labelExpr":"datum.value == 0 ? '0' : '1.2/k₀'","ticks":false,"domain":false,"labelPadding":6,"labelFontSize":11,"labelColor":"#555555","title":"ν","titleY":13,"titleBaseline":"middle","titleFont":"Liberation Serif","titleFontStyle":"italic","titleFontSize":13}},
    "y":{"field":"G","type":"quantitative","stack":null,"axis":{"orient":"left","offset":-193,"values":[0,3],"labelExpr":"datum.value == 0 ? '0' : '3k₀'","ticks":false,"domain":false,"labelPadding":4,"labelFontSize":11,"labelColor":"#555555","title":null}}}},
  {"data":{"name":"om"},"transform":[{"filter":"datum.p=='c'"}],"mark":{"type":"rule","color":"#111111","strokeDash":[5,4],"strokeWidth":1.3},
   "encoding":{"x":{"field":"w","type":"quantitative","axis":null},"y":{"datum":0,"type":"quantitative","axis":null},"y2":{"datum":3}}},
  {"data":{"name":"txt"},"transform":[{"filter":"datum.p=='c' && datum.k=='G'"}],"mark":{"type":"text","fontSize":20,"color":"#000000","align":"center","baseline":"middle"},
   "encoding":{"x":{"field":"nu","type":"quantitative","axis":null},"y":{"field":"G","type":"quantitative","axis":null},"text":{"field":"t"}}},
  {"data":{"name":"txt"},"transform":[{"filter":"datum.p=='c' && datum.k=='O'"}],"mark":{"type":"text","fontSize":15,"color":"#000000","align":"center","baseline":"middle","font":"Liberation Serif"},
   "encoding":{"x":{"field":"nu","type":"quantitative","axis":null},"y":{"field":"G","type":"quantitative","axis":null},"text":{"field":"t"}}},
  {"data":{"name":"txt"},"transform":[{"filter":"datum.p=='c' && datum.k=='O'"}],"mark":{"type":"text","fontSize":11,"color":"#000000","align":"center","baseline":"middle","dx":10,"dy":7},
   "encoding":{"x":{"field":"nu","type":"quantitative","axis":null},"y":{"field":"G","type":"quantitative","axis":null},"text":{"value":"c"}}}
 ],"resolve":{"axis":{"x":"independent","y":"independent"}}}
],"resolve":{"scale":{"x":"independent","y":"independent"},"axis":{"x":"independent","y":"independent"}}},
{"layer":[
 {"layer":[
  {"data":{"name":"main"},"transform":[{"filter":"datum.p=='d' && datum.s=='f'"}],"mark":{"type":"line","color":"#0072BD","strokeWidth":1.2},
   "encoding":{"x":{"field":"x","type":"quantitative","scale":{"domain":[0,2],"range":[388,657],"nice":false},"axis":{"orient":"bottom","offset":-38,"values":[0,0.5,1,1.5,2],"format":"~g","tickSize":-4,"labelPadding":13,"title":"λ","titleY":31,"titleBaseline":"middle","titleFont":"Liberation Serif","titleFontSize":16}},
    "y":{"field":"r","type":"quantitative","scale":{"domain":[0,1],"range":[470,267],"nice":false},"axis":{"orient":"left","offset":-388,"values":[0,0.2,0.4,0.6,0.8,1],"format":"~g","tickSize":-4,"labelPadding":7,"title":"r","titleAngle":0,"titleX":-28,"titleY":360,"titleBaseline":"middle","titleAlign":"center","titleFontSize":15}}}},
  {"data":{"name":"main"},"transform":[{"filter":"datum.p=='d' && datum.s=='f'"}],"mark":{"type":"point","shape":"triangle-up","filled":false,"color":"#0072BD","size":30,"strokeWidth":1.1,"opacity":1},
   "encoding":{"x":{"field":"x","type":"quantitative","axis":null},"y":{"field":"r","type":"quantitative","axis":null}}},
  {"data":{"name":"main"},"transform":[{"filter":"datum.p=='d' && datum.s=='b'"}],"mark":{"type":"line","color":"#D95319","strokeWidth":1.2},
   "encoding":{"x":{"field":"x","type":"quantitative","axis":null},"y":{"field":"r","type":"quantitative","axis":null}}},
  {"data":{"name":"main"},"transform":[{"filter":"datum.p=='d' && datum.s=='b'"}],"mark":{"type":"point","shape":"triangle-down","filled":false,"color":"#D95319","size":30,"strokeWidth":1.1,"opacity":1},
   "encoding":{"x":{"field":"x","type":"quantitative","axis":null},"y":{"field":"r","type":"quantitative","axis":null}}},
  {"data":{"name":"main"},"transform":[{"filter":"datum.p=='d' && datum.s=='t'"}],"mark":{"type":"line","color":"#000000","strokeWidth":2.6},
   "encoding":{"x":{"field":"x","type":"quantitative","axis":{"orient":"top","offset":-267,"values":[0,0.5,1,1.5,2],"tickSize":-4,"labels":false,"title":null}},
    "y":{"field":"r","type":"quantitative","axis":{"orient":"right","offset":-20,"values":[0,0.2,0.4,0.6,0.8,1],"tickSize":-4,"labels":false,"title":null}}}},
  {"data":{"name":"lab"},"transform":[{"filter":"datum.p=='d'"}],"mark":{"type":"text","fontSize":17,"color":"#1a1a1a","align":"center","baseline":"middle"},
   "encoding":{"x":{"field":"x","type":"quantitative","axis":null},"y":{"field":"r","type":"quantitative","axis":null},"text":{"field":"t"}}}
 ],"resolve":{"axis":{"x":"independent","y":"independent"}}},
 {"layer":[
  {"data":{"values":[{}]},"mark":{"type":"rect","fill":"#ffffff","stroke":"#555555","strokeWidth":1},
   "encoding":{"x":{"datum":0,"type":"quantitative","scale":{"domain":[0,1.2],"range":[542,641],"nice":false},"axis":null},"x2":{"datum":1.2},
    "y":{"datum":0,"type":"quantitative","scale":{"domain":[0,3],"range":[422,330],"nice":false},"axis":null},"y2":{"datum":3}}},
  {"data":{"name":"g"},"transform":[{"filter":"datum.p=='d'"}],"mark":{"type":"area","color":"#808080","opacity":1},
   "encoding":{"x":{"field":"nu","type":"quantitative","axis":{"orient":"bottom","offset":-86,"values":[0,1.2],"labelExpr":"datum.value == 0 ? '0' : '1.2/k₀'","ticks":false,"domain":false,"labelPadding":7,"labelFontSize":11,"labelColor":"#555555","title":"ν","titleY":15,"titleBaseline":"middle","titleFont":"Liberation Serif","titleFontStyle":"italic","titleFontSize":13}},
    "y":{"field":"G","type":"quantitative","stack":null,"axis":{"orient":"left","offset":-542,"values":[0,3],"labelExpr":"datum.value == 0 ? '0' : '3k₀'","ticks":false,"domain":false,"labelPadding":2,"labelFontSize":11,"labelColor":"#555555","title":null}}}},
  {"data":{"name":"om"},"transform":[{"filter":"datum.p=='d'"}],"mark":{"type":"rule","color":"#111111","strokeDash":[5,4],"strokeWidth":1.3},
   "encoding":{"x":{"field":"w","type":"quantitative","axis":null},"y":{"datum":0,"type":"quantitative","axis":null},"y2":{"datum":3}}},
  {"data":{"name":"txt"},"transform":[{"filter":"datum.p=='d' && datum.k=='G'"}],"mark":{"type":"text","fontSize":20,"color":"#000000","align":"center","baseline":"middle"},
   "encoding":{"x":{"field":"nu","type":"quantitative","axis":null},"y":{"field":"G","type":"quantitative","axis":null},"text":{"field":"t"}}},
  {"data":{"name":"txt"},"transform":[{"filter":"datum.p=='d' && datum.k=='O'"}],"mark":{"type":"text","fontSize":15,"color":"#000000","align":"center","baseline":"middle","font":"Liberation Serif"},
   "encoding":{"x":{"field":"nu","type":"quantitative","axis":null},"y":{"field":"G","type":"quantitative","axis":null},"text":{"field":"t"}}},
  {"data":{"name":"txt"},"transform":[{"filter":"datum.p=='d' && datum.k=='O'"}],"mark":{"type":"text","fontSize":11,"color":"#000000","align":"center","baseline":"middle","dx":9,"dy":7},
   "encoding":{"x":{"field":"nu","type":"quantitative","axis":null},"y":{"field":"G","type":"quantitative","axis":null},"text":{"value":"c"}}}
 ],"resolve":{"axis":{"x":"independent","y":"independent"}}}
],"resolve":{"scale":{"x":"independent","y":"independent"},"axis":{"x":"independent","y":"independent"}}}
],
"resolve":{"scale":{"x":"independent","y":"independent"},"axis":{"x":"independent","y":"independent"}}
}
